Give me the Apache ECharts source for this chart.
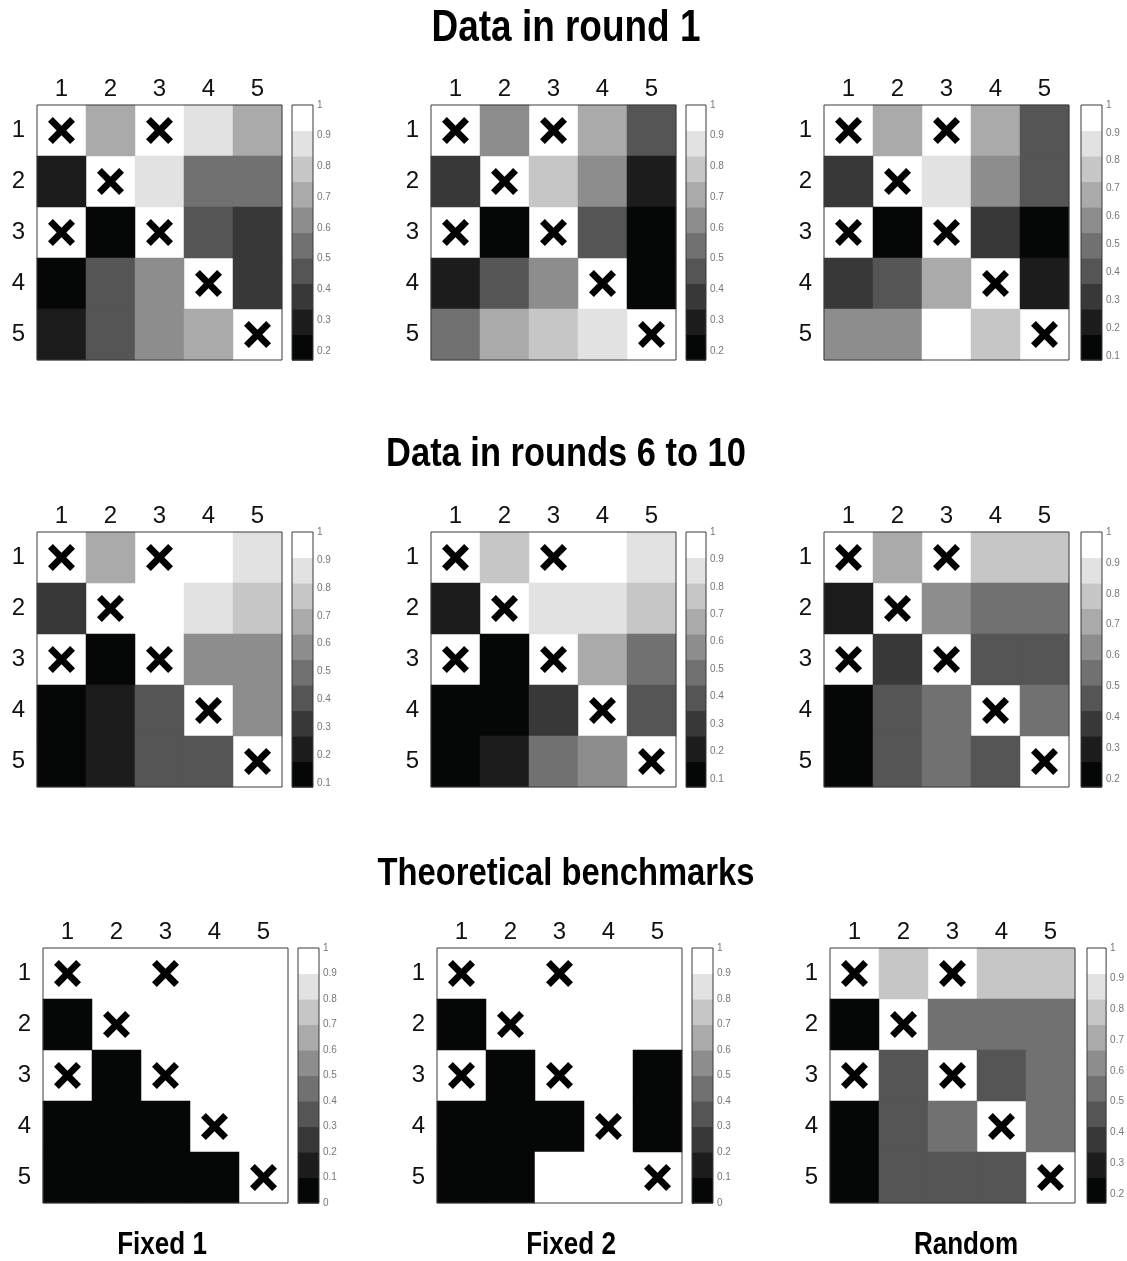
<!DOCTYPE html>
<html><head><meta charset="utf-8">
<script src="https://cdn.jsdelivr.net/npm/echarts@6/dist/echarts.min.js"></script>
<style>html,body{margin:0;padding:0;background:#fff}#c{width:1127px;height:1261px}</style>
</head><body><div id="c"></div>
<script>
// ---------- data ----------
const colLabels = ['1', '2', '3', '4', '5'];
const rowLabels = ['1', '2', '3', '4', '5'];
// cells marked with a cross (row, column), 1-based
const crossCells = [[1, 1], [2, 2], [3, 3], [4, 4], [5, 5], [1, 3], [3, 1]];

const sectionTitles = ['Data in round 1', 'Data in rounds 6 to 10', 'Theoretical benchmarks'];
const columnTitles = ['Fixed 1', 'Fixed 2', 'Random'];

// null = crossed cell
const round1Fixed1 = [
  [null, 0.71, null, 0.88, 0.71],
  [0.29, null, 0.88, 0.54, 0.54],
  [null, 0.18, null, 0.46, 0.38],
  [0.18, 0.46, 0.63, null, 0.38],
  [0.29, 0.46, 0.63, 0.71, null]
];
const round1Fixed2 = [
  [null, 0.63, null, 0.71, 0.46],
  [0.38, null, 0.79, 0.63, 0.29],
  [null, 0.18, null, 0.46, 0.20],
  [0.29, 0.46, 0.63, null, 0.20],
  [0.54, 0.71, 0.79, 0.88, null]
];
const round1Random = [
  [null, 0.68, null, 0.68, 0.40],
  [0.31, null, 0.86, 0.59, 0.40],
  [null, 0.09, null, 0.31, 0.11],
  [0.31, 0.40, 0.68, null, 0.22],
  [0.59, 0.59, 1.00, 0.77, null]
];
const lateFixed1 = [
  [null, 0.68, null, 1.00, 0.86],
  [0.31, null, 0.98, 0.86, 0.77],
  [null, 0.09, null, 0.59, 0.59],
  [0.11, 0.22, 0.41, null, 0.59],
  [0.12, 0.22, 0.41, 0.41, null]
];
const lateFixed2 = [
  [null, 0.77, null, 1.00, 0.86],
  [0.21, null, 0.86, 0.86, 0.77],
  [null, 0.07, null, 0.67, 0.49],
  [0.08, 0.08, 0.30, null, 0.40],
  [0.09, 0.21, 0.49, 0.58, null]
];
const lateRandom = [
  [null, 0.71, null, 0.79, 0.79],
  [0.30, null, 0.63, 0.55, 0.55],
  [null, 0.38, null, 0.46, 0.46],
  [0.18, 0.46, 0.55, null, 0.55],
  [0.18, 0.46, 0.55, 0.46, null]
];
const benchFixed1 = [
  [null, 1, null, 1, 1],
  [0, null, 1, 1, 1],
  [null, 0, null, 1, 1],
  [0, 0, 0, null, 1],
  [0, 0, 0, 0, null]
];
const benchFixed2 = [
  [null, 1, null, 1, 1],
  [0, null, 1, 1, 1],
  [null, 0, null, 1, 0],
  [0, 0, 0, null, 0],
  [0, 0, 1, 1, null]
];
const benchRandom = [
  [null, 0.80, null, 0.80, 0.80],
  [0.17, null, 0.53, 0.53, 0.53],
  [null, 0.47, null, 0.47, 0.53],
  [0.17, 0.47, 0.53, null, 0.53],
  [0.17, 0.47, 0.47, 0.47, null]
];

// colour-scale ranges of each panel's colorbar
const scaleMin = [0.17, 0.17, 0.085, 0.087, 0.07, 0.175, 0, 0, 0.17];
const scaleMax = [1, 1, 1, 1, 1, 1, 1, 1, 1];
const ticksFrom0 = [0, 0.1, 0.2, 0.3, 0.4, 0.5, 0.6, 0.7, 0.8, 0.9, 1];
const ticksFrom01 = [0.1, 0.2, 0.3, 0.4, 0.5, 0.6, 0.7, 0.8, 0.9, 1];
const ticksFrom02 = [0.2, 0.3, 0.4, 0.5, 0.6, 0.7, 0.8, 0.9, 1];

const matrices = [round1Fixed1, round1Fixed2, round1Random, lateFixed1, lateFixed2, lateRandom, benchFixed1, benchFixed2, benchRandom];
const panelTicks = [ticksFrom02, ticksFrom02, ticksFrom01, ticksFrom01, ticksFrom01, ticksFrom02, ticksFrom0, ticksFrom0, ticksFrom02];

// ---------- style / layout ----------
const grays = ['#050707', '#1c1c1c', '#383838', '#555555', '#717171', '#8d8d8d', '#aaaaaa', '#c6c6c6', '#e2e2e2', '#ffffff'];
const layout = [
  { l: 37, t: 105, w: 245, h: 255, cb: 292, cbw: 21 },
  { l: 431, t: 105, w: 245, h: 255, cb: 686, cbw: 20 },
  { l: 824, t: 105, w: 245, h: 255, cb: 1081, cbw: 21 },
  { l: 37, t: 532, w: 245, h: 255, cb: 292, cbw: 21 },
  { l: 431, t: 532, w: 245, h: 255, cb: 686, cbw: 20 },
  { l: 824, t: 532, w: 245, h: 255, cb: 1081, cbw: 21 },
  { l: 43, t: 948, w: 245, h: 255, cb: 298, cbw: 21 },
  { l: 437, t: 948, w: 245, h: 255, cb: 692, cbw: 21 },
  { l: 830, t: 948, w: 245, h: 255, cb: 1087, cbw: 21 }
];
const FONT = "'Liberation Sans', Arial, sans-serif";
const XPATH = 'path://M18 0 L50 32 L82 0 L100 18 L68 50 L100 82 L82 100 L50 68 L18 100 L0 82 L32 50 L0 18 Z';

const grid = [], xAxis = [], yAxis = [], series = [], visualMap = [];

matrices.forEach((mat, i) => {
  const L = layout[i];
  const m = scaleMin[i], M = scaleMax[i], w = (M - m) / 10;
  const gi = 2 * i, ci = 2 * i + 1;
  grid.push({ left: L.l, top: L.t, width: L.w, height: L.h, show: true, borderColor: '#3a3a3a', borderWidth: 1, backgroundColor: 'transparent', z: 10 });
  grid.push({ left: L.cb, top: L.t, width: L.cbw, height: L.h, show: true, borderColor: '#3a3a3a', borderWidth: 1, backgroundColor: 'transparent', z: 10 });

  xAxis.push({ type: 'category', gridIndex: gi, data: colLabels, position: 'top',
    axisLine: { show: false }, axisTick: { show: false }, splitLine: { show: false },
    axisLabel: { interval: 0, fontSize: 24, color: '#111', fontFamily: FONT, margin: 4 } });
  yAxis.push({ type: 'category', gridIndex: gi, data: rowLabels, inverse: true,
    axisLine: { show: false }, axisTick: { show: false }, splitLine: { show: false },
    axisLabel: { interval: 0, fontSize: 24, color: '#111', fontFamily: FONT, margin: 12 } });

  xAxis.push({ type: 'value', gridIndex: ci, min: 0, max: 1, show: false });
  yAxis.push({ type: 'value', gridIndex: ci, min: m, max: M, position: 'right',
    axisLine: { show: false }, splitLine: { show: false },
    axisTick: { show: true, length: 2, inside: false, customValues: panelTicks[i], lineStyle: { color: '#444', width: 1 } },
    axisLabel: { customValues: panelTicks[i], fontSize: 10, color: '#777', fontFamily: FONT, margin: 4,
      formatter: v => String(Math.round(v * 10) / 10) } });

  const cells = [];
  mat.forEach((row, r) => row.forEach((v, c) => { if (v !== null) cells.push([c, r, v]); }));
  const hmIndex = series.length;
  series.push({ type: 'heatmap', xAxisIndex: gi, yAxisIndex: gi, data: cells, itemStyle: { borderWidth: 0 }, emphasis: { disabled: true }, z: 2 });
  series.push({ type: 'scatter', xAxisIndex: gi, yAxisIndex: gi, symbol: XPATH, symbolSize: 27, z: 4,
    itemStyle: { color: '#000', opacity: 1 },
    data: crossCells.map(([r, c]) => [c - 1, r - 1]) });

  const bands = [];
  for (let k = 0; k < 10; k++) bands.push([m + k * w, m + (k + 1) * w, k]);
  series.push({ type: 'custom', xAxisIndex: ci, yAxisIndex: ci, data: bands, z: 2,
    renderItem: (params, api) => {
      const tl = api.coord([0, api.value(1)]);
      const br = api.coord([1, api.value(0)]);
      return { type: 'rect', shape: { x: tl[0], y: tl[1], width: br[0] - tl[0], height: br[1] - tl[1] + 0.6 },
        style: { fill: grays[api.value(2)] } };
    } });

  const pieces = [];
  for (let k = 0; k < 10; k++) {
    const p = { color: grays[k] };
    if (k > 0) p.gte = m + k * w;
    if (k < 9) p.lt = m + (k + 1) * w;
    pieces.push(p);
  }
  visualMap.push({ type: 'piecewise', show: false, seriesIndex: hmIndex, dimension: 2, pieces });
});

const titleY = [29, 455, 874];
const titleSize = [44, 41, 39];
const colTitleX = [162, 571, 966];
const graphic = [];
sectionTitles.forEach((t, i) => graphic.push({ type: 'text', x: 566, y: titleY[i], scaleX: 0.84,
  style: { text: t, font: `bold ${titleSize[i]}px ${FONT}`, fill: '#000', textAlign: 'center', textVerticalAlign: 'middle' } }));
columnTitles.forEach((t, i) => graphic.push({ type: 'text', x: colTitleX[i], y: 1245, scaleX: 0.84,
  style: { text: t, font: `bold 31px ${FONT}`, fill: '#000', textAlign: 'center', textVerticalAlign: 'middle' } }));

const chart = echarts.init(document.getElementById('c'), null, { renderer: 'canvas' });
chart.setOption({ animation: false, backgroundColor: '#fff', grid, xAxis, yAxis, series, visualMap, graphic });
</script></body></html>
